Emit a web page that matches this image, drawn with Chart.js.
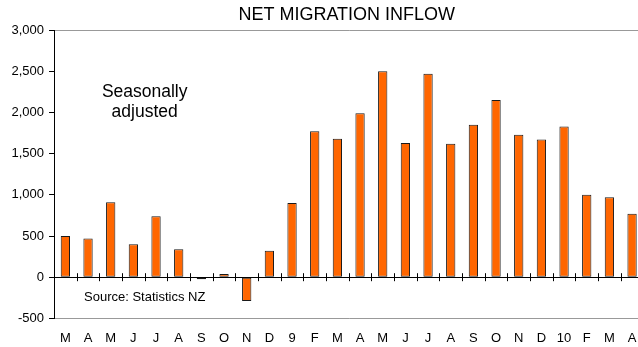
<!DOCTYPE html>
<html>
<head>
<meta charset="utf-8">
<script src="https://cdn.jsdelivr.net/npm/chart.js@4.4.1/dist/chart.umd.min.js"></script>
<style>
  html, body { margin: 0; padding: 0; overflow: hidden; background: #fff; }
  #wrap { width: 645px; height: 347px; }
</style>
</head>
<body>
<div id="wrap"><canvas id="migrationChart"></canvas></div>
<script>
var months = [
  "M", "A", "M", "J", "J", "A", "S", "O", "N", "D", "9", "F", "M",
  "A", "M", "J", "J", "A", "S", "O", "N", "D", "10", "F", "M", "A"
];
var netInflow = [
  500, 470, 910, 400, 740, 340, -25, 40, -290, 320, 900, 1770, 1680,
  1990, 2500, 1630, 2470, 1620, 1850, 2150, 1730, 1670, 1830, 1000, 970, 770
];
var yTicks = [-500, 0, 500, 1000, 1500, 2000, 2500, 3000];
var titleText = "NET MIGRATION INFLOW";
var noteLines = ["Seasonally", "adjusted"];
var sourceText = "Source: Statistics NZ";

var FONT = "'Liberation Sans', Arial, sans-serif";

// title, notes and the little ticks on the zero line
var extrasPlugin = {
  id: 'extras',
  afterDraw: function (chart) {
    var ctx = chart.ctx;
    var area = chart.chartArea;
    var x = chart.scales.x;
    var y = chart.scales.y;
    ctx.save();
    ctx.fillStyle = '#000';
    ctx.textAlign = 'center';
    ctx.textBaseline = 'middle';
    ctx.font = '18px ' + FONT;
    ctx.fillText(titleText, (area.left + area.right) / 2 - 2, 15);

    ctx.font = '17.5px ' + FONT;
    var nx = (x.getPixelForValue(3) + x.getPixelForValue(4)) / 2;
    ctx.fillText(noteLines[0], nx, y.getPixelForValue(2240));
    ctx.fillText(noteLines[1], nx, y.getPixelForValue(2000));

    ctx.font = '13px ' + FONT;
    ctx.fillText(sourceText, nx, y.getPixelForValue(-240));

    var zy = y.getPixelForValue(0);
    ctx.strokeStyle = '#000';
    ctx.lineWidth = 1;
    ctx.beginPath();
    for (var i = 1; i < months.length; i++) {
      var bx = Math.round((x.getPixelForValue(i - 1) + x.getPixelForValue(i)) / 2) + 0.5;
      ctx.moveTo(bx, zy - 4);
      ctx.lineTo(bx, zy + 4);
    }
    ctx.stroke();
    ctx.restore();
  }
};

var ctx = document.getElementById('migrationChart').getContext('2d');
var migrationChart = new Chart(ctx, {
  type: 'bar',
  data: {
    labels: months,
    datasets: [{
      label: 'Net migration inflow',
      data: netInflow,
      backgroundColor: '#FF6600',
      borderColor: '#1a1a1a',
      borderWidth: 1,
      borderSkipped: false,
      categoryPercentage: 1,
      barPercentage: 0.41
    }]
  },
  options: {
    responsive: true,
    maintainAspectRatio: false,
    animation: false,
    layout: {
      padding: { top: 30, left: 6.5, right: 1.6, bottom: -1 }
    },
    plugins: {
      legend: { display: false },
      title: { display: false },
      tooltip: { enabled: false }
    },
    scales: {
      x: {
        offset: true,
        grid: { display: false, drawTicks: true, tickLength: 10 },
        border: { display: false },
        ticks: {
          color: '#000',
          padding: 2,
          maxRotation: 0,
          autoSkip: false,
          font: { family: FONT, size: 13 }
        }
      },
      y: {
        min: -500,
        max: 3000,
        afterBuildTicks: function (scale) {
          scale.ticks = yTicks.map(function (v) { return { value: v }; });
        },
        border: { color: '#000', width: 1 },
        grid: {
          drawTicks: true,
          tickLength: 5,
          tickColor: '#000',
          color: function (c) {
            if (!c.tick) return 'rgba(0,0,0,0)';
            if (c.tick.value === 0) return '#000';
            if (c.tick.value === 3000 || c.tick.value === -500) return '#999';
            return 'rgba(0,0,0,0)';
          }
        },
        ticks: {
          color: '#000',
          padding: 5,
          font: { family: FONT, size: 13 },
          callback: function (v) { return v.toLocaleString('en-US'); }
        }
      }
    }
  },
  plugins: [extrasPlugin]
});
</script>
</body>
</html>
